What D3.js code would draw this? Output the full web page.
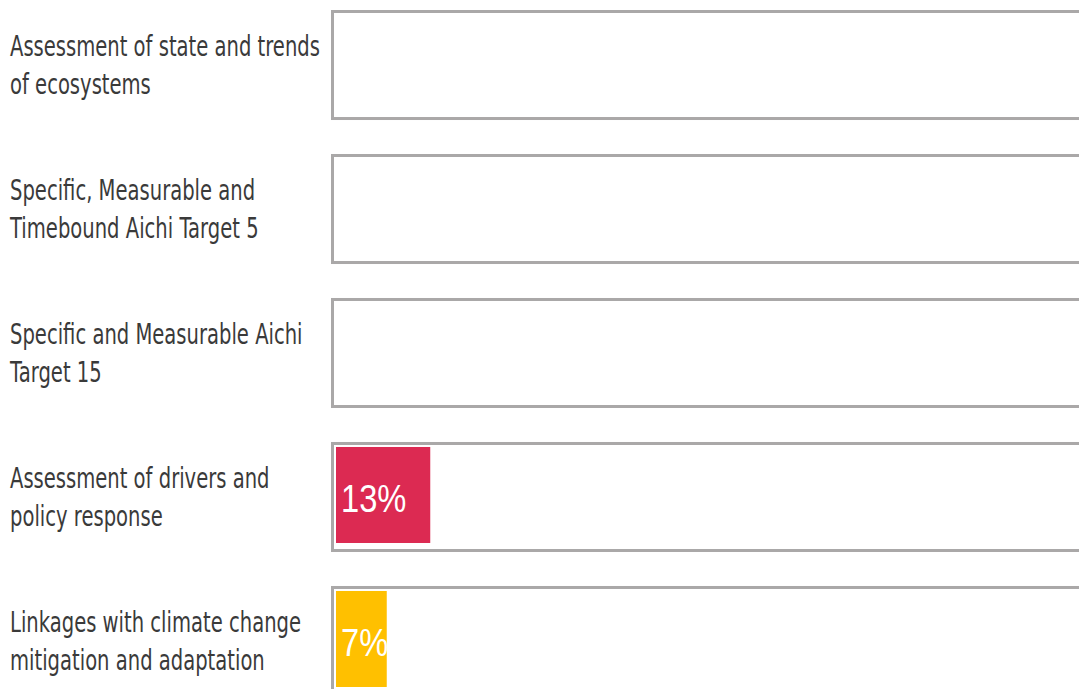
<!DOCTYPE html>
<html>
<head>
<meta charset="utf-8">
<script src="https://cdn.jsdelivr.net/npm/d3@7"></script>
<style>
  body { margin: 0; background: #fff; }
  svg { display: block; }
</style>
</head>
<body>
<svg id="main-vis" width="1079" height="689"></svg>
<script>
var width = 1079, height = 689;

// chart data
var categories = [
  "Assessment of state and trends of ecosystems",
  "Specific, Measurable and Timebound Aichi Target 5",
  "Specific and Measurable Aichi Target 15",
  "Assessment of drivers and policy response",
  "Linkages with climate change mitigation and adaptation"
];
var labelLines = [
  ["Assessment of state and trends", "of ecosystems"],
  ["Specific, Measurable and", "Timebound Aichi Target 5"],
  ["Specific and Measurable Aichi", "Target 15"],
  ["Assessment of drivers and", "policy response"],
  ["Linkages with climate change", "mitigation and adaptation"]
];
var values = [0, 0, 0, 13, 7];
var barColors = ["#dc2a52", "#dc2a52", "#dc2a52", "#dc2a52", "#ffc000"];

var svg = d3.select('#main-vis');

var y = d3.scaleBand()
  .domain(categories)
  .range([10, 696])
  .paddingInner(0.236)
  .paddingOuter(0);

var x = d3.scaleLinear()
  .domain([0, 100])
  .range([336, 336 + 725]);

var rows = svg.selectAll('.row')
  .data(categories)
  .enter()
  .append('g')
    .attr('class', 'row')
    .attr('transform', d => `translate(0,${y(d)})`);

// outline boxes
rows.append('rect')
  .attr('x', 332.5)
  .attr('y', 1.5)
  .attr('width', 800)
  .attr('height', y.bandwidth() - 3)
  .attr('fill', 'none')
  .attr('stroke', '#aaa8a8')
  .attr('stroke-width', 3);

// bars
rows.filter((d, i) => values[i] > 0)
  .append('rect')
    .attr('x', x(0))
    .attr('y', 5)
    .attr('width', (d) => x(values[categories.indexOf(d)]) - x(0))
    .attr('height', 96)
    .attr('fill', (d) => barColors[categories.indexOf(d)]);

rows.filter((d, i) => values[i] > 0)
  .append('text')
    .attr('transform', `translate(${x(0) + 5},70) scale(0.86,1)`)
    .text(d => values[categories.indexOf(d)] + '%')
    .attr('fill', '#fff')
    .style('font-family', '"Liberation Sans", Arial, sans-serif')
    .style('font-size', '38px');

// labels (squeezed horizontally to mimic the condensed face)
var labelScale = 1;
rows.each(function (d, i) {
  var t = d3.select(this).append('text')
    .attr('class', 'label')
    .attr('fill', '#3a3a3a')
    .style('font-family', '"DejaVu Sans", sans-serif')
    .style('font-size', '29px');
  labelLines[i].forEach(function (line, j) {
    t.append('tspan')
      .attr('x', 0)
      .attr('y', 46 + j * 38)
      .text(line);
  });
});
var refLine = svg.select('.label tspan').node();
labelScale = 310 / refLine.getComputedTextLength();
svg.selectAll('.label')
  .attr('transform', `translate(10,0) scale(${labelScale},1)`);
</script>
</body>
</html>
